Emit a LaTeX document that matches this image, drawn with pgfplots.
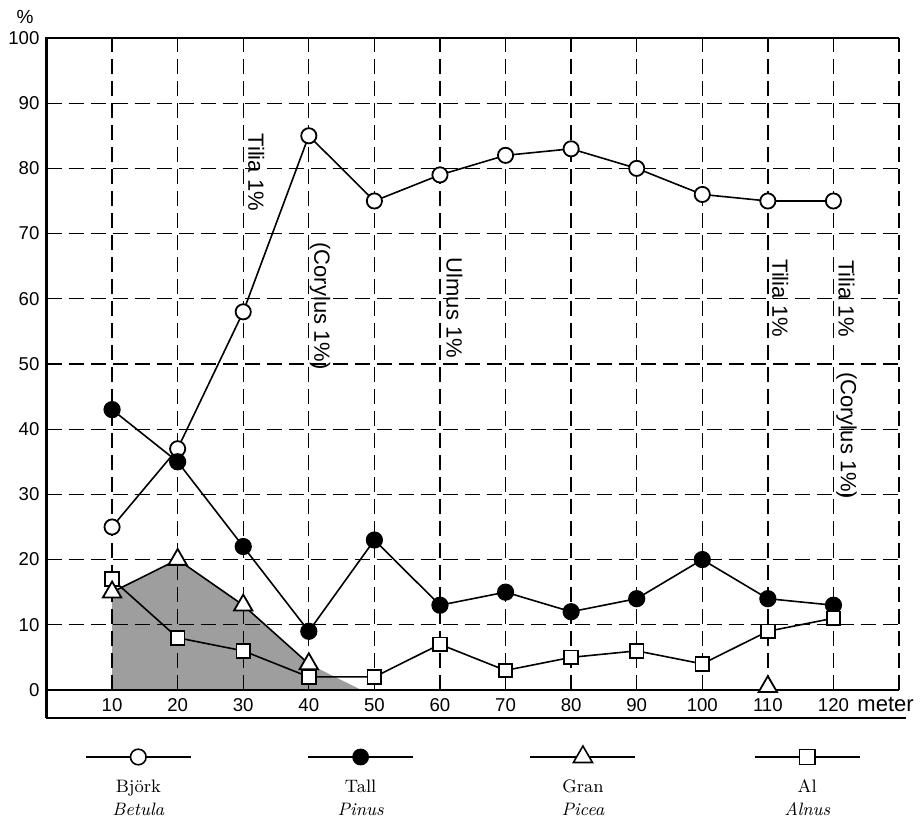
\documentclass[border=0pt]{standalone}
\usepackage{fontspec}
\setsansfont{Liberation Sans}
\usepackage{pgfplots}
\pgfplotsset{compat=1.18}
\tikzset{gridl/.style={black, line width=0.65pt, dash pattern=on 7.5pt off 3.5pt}}
\begin{document}
\begin{tikzpicture}
\useasboundingbox (-23.25pt,-50pt) rectangle (436.75pt,359pt);
\begin{axis}[
  at={(0pt,0pt)}, anchor=south west,
  scale only axis, width=426.25pt, height=340pt,
  xmin=0, xmax=130, ymin=-4.3, ymax=100,
  axis line style={draw=none},
  xtick={10,20,...,120}, ytick={0,10,...,100},
  major tick length=0pt,
  tick label style={font=\sffamily\fontsize{9.3}{11}\selectfont},
  /pgf/number format/assume math mode=true,
  xticklabel style={anchor=center, yshift=6.5pt},
  clip=false,
]
% shaded Picea area
\addplot[fill=black!38, draw=none] coordinates {(10,0) (10,15) (20,20) (30,13) (40,4) (48,0)} -- cycle;
% grid
\pgfplotsinvokeforeach{10,20,...,130}{\draw[gridl] (axis cs:#1,0) -- (axis cs:#1,100);}
\pgfplotsinvokeforeach{10,20,...,90}{\draw[gridl] (axis cs:0,#1) -- (axis cs:130,#1);}
% frame
\draw[line width=1.2pt] (axis cs:0,-4.3) -- (axis cs:0,100) -- (axis cs:130,100);
\draw[line width=1.1pt] (axis cs:0,0) -- (axis cs:130,0);
\draw[line width=1.1pt] (axis cs:0,-4.3) -- (axis cs:131,-4.3);
% Betula
\addplot[black, line width=0.8pt, mark=*, mark size=3.8pt, mark options={fill=white, line width=0.9pt}] coordinates {
(10,25) (20,37) (30,58) (40,85) (50,75) (60,79) (70,82) (80,83) (90,80) (100,76) (110,75) (120,75)};
% Pinus
\addplot[black, line width=0.8pt, mark=*, mark size=3.9pt, mark options={fill=black}] coordinates {
(10,43) (20,35) (30,22) (40,9) (50,23) (60,13) (70,15) (80,12) (90,14) (100,20) (110,14) (120,13)};
% Alnus
\addplot[black, line width=0.8pt, mark=square*, mark size=3.4pt, mark options={fill=white, line width=0.9pt}] coordinates {
(10,17) (20,8) (30,6) (40,2) (50,2) (60,7) (70,3) (80,5) (90,6) (100,4) (110,9) (120,11)};
% Picea
\addplot[black, line width=0.8pt, mark=triangle*, mark size=5.3pt, mark options={fill=white, line width=0.9pt}] coordinates {
(10,15) (20,20) (30,13) (40,4)};
\addplot[black, only marks, mark=triangle*, mark size=5.3pt, mark options={fill=white, line width=0.9pt}] coordinates {(110,0.5)};
% annotations
\begin{scope}[every node/.style={rotate=-90, font=\sffamily\fontsize{11}{13}\selectfont, inner sep=0pt}]
\node at (axis cs:32,79.4) {Tilia 1\%};
\node at (axis cs:41.7,58.9) {(Corylus 1\%)};
\node at (axis cs:62.2,58.6) {Ulmus 1\%};
\node at (axis cs:111.9,60.1) {Tilia 1\%};
\node at (axis cs:122,60) {Tilia 1\%};
\node at (axis cs:122,39) {(Corylus 1\%)};
\end{scope}
\node[anchor=west, inner sep=0pt, font=\sffamily\fontsize{11}{13}\selectfont] at (axis cs:123.6,-2.3) {meter};
\node[inner sep=0pt, font=\sffamily\fontsize{9.5}{11}\selectfont] at (axis cs:0,100) [xshift=-10.75pt, yshift=10.5pt] {\%};
\end{axis}
\begin{axis}[
  at={(0pt,-50pt)}, anchor=south west,
  scale only axis, width=426.25pt, height=50pt,
  xmin=0, xmax=130, ymin=-50, ymax=0,
  hide axis, clip=false,
]
\addplot[black, line width=0.6pt, mark=*, mark size=3.9pt, mark indices={2}, mark options={fill=white, line width=0.8pt}] coordinates {(6,-19.5) (14,-19.5) (22,-19.5)};
\addplot[black, line width=0.6pt, mark=*, mark size=3.9pt, mark indices={2}, mark options={fill=black}] coordinates {(39.9,-19.5) (47.9,-19.5) (55.9,-19.5)};
\addplot[black, line width=0.6pt, mark=triangle*, mark size=5.5pt, mark indices={2}, mark options={fill=white, line width=0.8pt}] coordinates {(73.8,-19.5) (81.8,-19.5) (89.8,-19.5)};
\addplot[black, line width=0.6pt, mark=square*, mark size=3.8pt, mark indices={2}, mark options={fill=white, line width=0.8pt}] coordinates {(108,-19.5) (116,-19.5) (124,-19.5)};
\begin{scope}[every node/.style={anchor=base, inner sep=0pt, font=\fontsize{9}{11}\selectfont}]
\node at (axis cs:14,-37.5) {Björk};
\node at (axis cs:14,-48.5) {\itshape Betula};
\node at (axis cs:47.9,-37.5) {Tall};
\node at (axis cs:47.9,-48.5) {\itshape Pinus};
\node at (axis cs:81.8,-37.5) {Gran};
\node at (axis cs:81.8,-48.5) {\itshape Picea};
\node at (axis cs:116,-37.5) {Al};
\node at (axis cs:116,-48.5) {\itshape Alnus};
\end{scope}
\end{axis}
\end{tikzpicture}
\end{document}
